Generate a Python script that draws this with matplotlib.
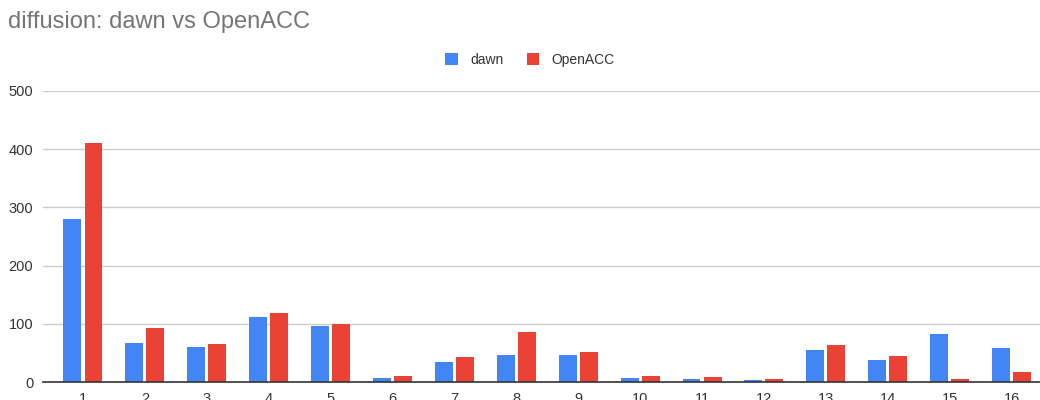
import matplotlib
matplotlib.use("Agg")
import matplotlib.pyplot as plt
import numpy as np

plt.rcParams['font.family'] = ['Liberation Sans', 'DejaVu Sans']

categories = [str(i) for i in range(1, 17)]
dawn = [280, 67, 60, 112, 96, 7, 34, 47, 47, 7, 5, 3, 55, 37, 82, 59]
openacc = [411, 93, 65, 118, 100, 10, 43, 86, 51, 10, 8, 5, 63, 45, 5, 18]
yticks = [0, 100, 200, 300, 400, 500]

BLUE = "#4285F4"
RED = "#EA4335"

fig = plt.figure(figsize=(10.4, 4.0), dpi=100)
ax = fig.add_axes([43 / 1040, 1 - 382 / 400, 1 - 43 / 1040, (382 - 91) / 400])

x = np.arange(1, len(categories) + 1)
w = 0.29
off = 0.17
ax.bar(x - off, dawn, width=w, color=BLUE, label="dawn", zorder=3)
ax.bar(x + off, openacc, width=w, color=RED, label="OpenACC", zorder=3)

ax.set_ylim(0, 500)
ax.set_xlim(0.354, 16.46)
ax.set_yticks(yticks)
ax.set_xticks(x)
ax.set_xticklabels(categories)
ax.grid(axis="y", color="#cccccc", linewidth=1, zorder=0)
for s in ["top", "right", "left"]:
    ax.spines[s].set_visible(False)
ax.spines["bottom"].set_color("#333333")
ax.spines["bottom"].set_linewidth(1.2)
ax.spines["bottom"].set_zorder(4)
ax.tick_params(axis="both", length=0, labelsize=10.5, colors="#333333")
ax.tick_params(axis="y", pad=7)
ax.tick_params(axis="x", pad=7)

fig.text(8 / 1040, 1 - 22 / 400, "diffusion: dawn vs OpenACC", fontsize=17,
         color="#757575", va="center", ha="left")

leg = fig.legend(loc="center", bbox_to_anchor=(530 / 1040, 1 - 60 / 400), ncol=2,
                 frameon=False, fontsize=10, handlelength=0.9, handleheight=0.9,
                 handletextpad=0.9, columnspacing=1.7)
for t in leg.get_texts():
    t.set_color("#333333")

fig.savefig("out.png", dpi=100)
